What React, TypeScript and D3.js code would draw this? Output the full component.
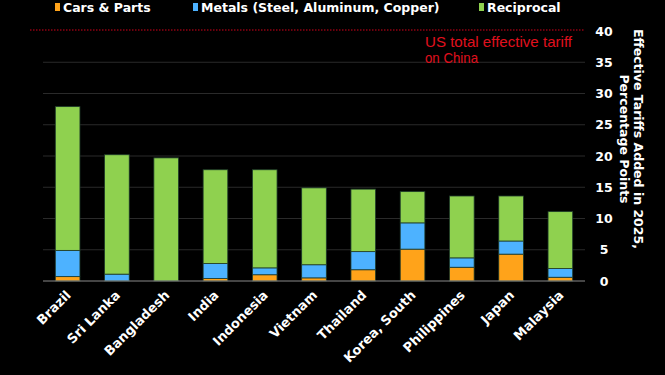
import React from "react";
import * as d3 from "d3";

const countries = ["Brazil", "Sri Lanka", "Bangladesh", "India", "Indonesia", "Vietnam", "Thailand", "Korea, South", "Philippines", "Japan", "Malaysia"];
const carsParts = [0.7, 0, 0, 0.4, 1.0, 0.5, 1.8, 5.1, 2.2, 4.3, 0.6];
const metals = [4.2, 1.1, 0, 2.4, 1.1, 2.1, 2.9, 4.2, 1.5, 2.1, 1.4];
const reciprocal = [23.0, 19.1, 19.7, 15.0, 15.7, 12.3, 10.0, 5.0, 9.9, 7.2, 9.1];
const seriesNames = ["Cars & Parts", "Metals (Steel, Aluminum, Copper)", "Reciprocal"];
const seriesColors = ["#FFA31A", "#4DB2FF", "#8FD14F"];
const yTicks = [0, 5, 10, 15, 20, 25, 30, 35, 40];
const chinaLine = 40;

const W = 665, H = 375;
const FONT = "'DejaVu Sans', Verdana, sans-serif";

export default function App() {
  const x = d3.scaleBand<string>().domain(countries).range([43, 585]).paddingInner(0.5).paddingOuter(0.25);
  const y = d3.scaleLinear().domain([0, 40]).range([281, 31]);
  const rows = countries.map((c, i) => ({ country: c, cars: carsParts[i], metals: metals[i], recip: reciprocal[i] }));
  const stack = d3.stack<any>().keys(["cars", "metals", "recip"])(rows);
  const legendX = [57, 195, 481];

  return (
    <svg width={W} height={H} style={{ position: "absolute", left: 0, top: 0, background: "#000" }} fontFamily={FONT}>
      <rect x={0} y={0} width={W} height={H} fill="#000" />
      {/* legend */}
      {seriesNames.map((n, i) => (
        <g key={n}>
          <rect x={legendX[i] - 2} y={3} width={5} height={8} fill={seriesColors[i]} />
          <text x={legendX[i] + 6} y={12} fill="#fff" fontSize={12.5} fontWeight="bold">{n}</text>
        </g>
      ))}
      {/* grid */}
      {yTicks.filter((t) => t > 0 && t < 40).map((t) => (
        <line key={t} x1={43} x2={585} y1={y(t)} y2={y(t)} stroke="#2a2a2a" strokeWidth={1} />
      ))}
      {/* bars */}
      {stack.map((s, si) => (
        <g key={si}>
          {s.map((d: any, i: number) => {
            const h = y(d[0]) - y(d[1]);
            if (h <= 0) return null;
            return (
              <rect key={i} x={x(countries[i])} y={y(d[1])} width={x.bandwidth()} height={h}
                fill={seriesColors[si]} stroke="#1e3a2a" strokeWidth={0.8} />
            );
          })}
        </g>
      ))}
      {/* baseline */}
      <line x1={43} x2={585} y1={y(0)} y2={y(0)} stroke="#8a8a8a" strokeWidth={1.2} />
      {/* China line */}
      <line x1={30} x2={584} y1={y(chinaLine) - 1} y2={y(chinaLine) - 1} stroke="#d4001a" strokeWidth={1.2} strokeDasharray="1.5,1.5" />
      <text fill="#e0101e" fontSize={15} fontFamily="'Liberation Sans', Arial, sans-serif">
        <tspan x={425} y={47} textLength={147} lengthAdjust="spacingAndGlyphs">US total effective tariff</tspan>
        <tspan x={425} y={63} textLength={53} lengthAdjust="spacingAndGlyphs">on China</tspan>
      </text>
      {/* y axis labels */}
      {yTicks.map((t) => (
        <text key={t} x={604} y={y(t) + 4.5} fill="#fff" fontSize={12.5} fontWeight="bold" textAnchor="middle">{t}</text>
      ))}
      {/* y title */}
      <g transform="translate(630,139) rotate(90)">
        <text x={0} y={-4} fill="#fff" fontSize={12.5} fontWeight="bold" textAnchor="middle">Effective Tariffs Added in 2025,</text>
        <text x={0} y={10} fill="#fff" fontSize={12.5} fontWeight="bold" textAnchor="middle">Percentage Points</text>
      </g>
      {/* x labels */}
      {countries.map((c) => {
        const cx = (x(c) as number) + x.bandwidth() / 2 + 4;
        return (
          <text key={c} transform={`translate(${cx},296) rotate(-45)`} fill="#fff" fontSize={13} fontWeight="bold" textAnchor="end">{c}</text>
        );
      })}
    </svg>
  );
}
